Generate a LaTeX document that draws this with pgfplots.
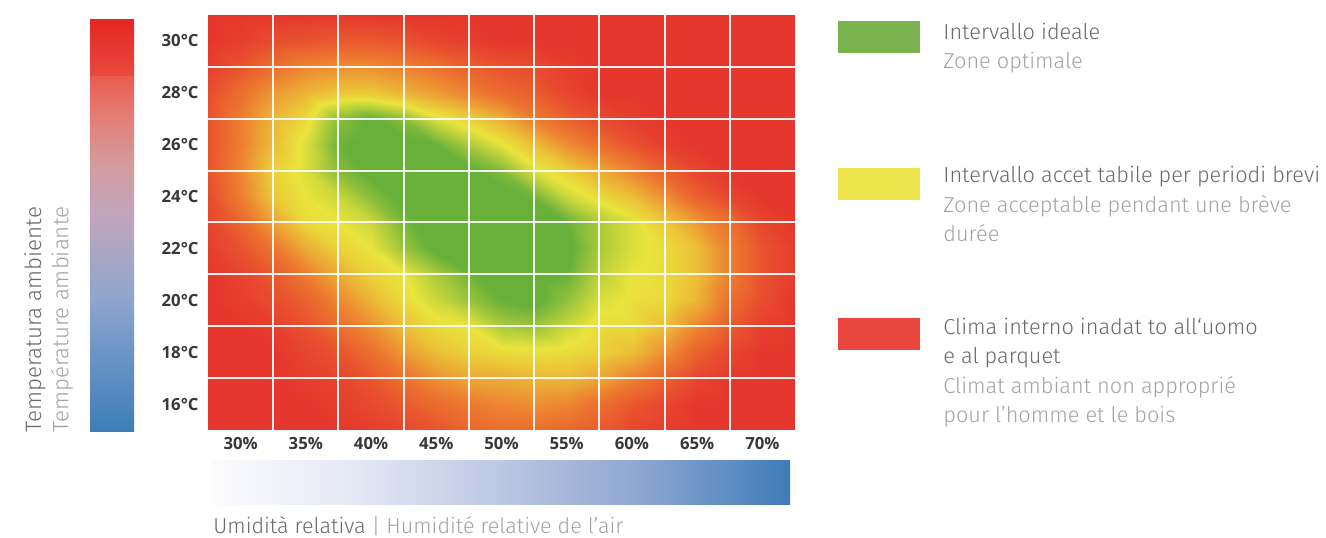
\documentclass[border=0pt]{standalone}
\usepackage{pgfplots}
\pgfplotsset{compat=1.18}
\usepackage{fontspec}
\IfFontExistsTF{Fira Sans Light}{\setmainfont{Fira Sans Light}}{\setmainfont{Fira Sans}}
\newfontfamily\tickfont{Open Sans}
\definecolor{dark}{RGB}{105,105,105}
\definecolor{light}{RGB}{163,163,163}
\definecolor{tickgray}{RGB}{55,55,55}
\definecolor{lgreen}{RGB}{122,179,80}
\definecolor{lyellow}{RGB}{235,228,74}
\definecolor{lred}{RGB}{232,69,60}
\definecolor{cbA}{RGB}{228,40,35}
\definecolor{cbB}{RGB}{232,74,62}
\definecolor{cbC}{RGB}{234,92,80}
\definecolor{cbD}{RGB}{228,125,115}
\definecolor{cbE}{RGB}{212,155,160}
\definecolor{cbF}{RGB}{192,165,188}
\definecolor{cbG}{RGB}{145,165,205}
\definecolor{cbH}{RGB}{110,150,200}
\definecolor{cbI}{RGB}{62,125,183}
\definecolor{hbA}{RGB}{252,252,254}
\definecolor{hbB}{RGB}{228,232,244}
\definecolor{hbC}{RGB}{188,199,227}
\definecolor{hbD}{RGB}{140,165,208}
\definecolor{hbE}{RGB}{62,124,184}
\pgfplotstableread{
x y v
27.5 15 0
30 15 0
32.5 15 0
35 15 0
37.5 15 0
40 15 0.1
42.5 15 0.25
45 15 0.4
47.5 15 0.65
50 15 0.8
52.5 15 0.8
55 15 0.7
57.5 15 0.5
60 15 0.25
62.5 15 0.1
65 15 0
67.5 15 0
70 15 0
72.5 15 0
27.5 16 0
30 16 0
32.5 16 0
35 16 0
37.5 16 0.1
40 16 0.25
42.5 16 0.5
45 16 0.75
47.5 16 0.95
50 16 1.1
52.5 16 1.2
55 16 1.1
57.5 16 0.8
60 16 0.45
62.5 16 0.2
65 16 0
67.5 16 0
70 16 0
72.5 16 0
27.5 17 0
30 17 0
32.5 17 0
35 17 0.1
37.5 17 0.2
40 17 0.45
42.5 17 0.85
45 17 1.2
47.5 17 1.45
50 17 1.5
52.5 17 1.6
55 17 1.65
57.5 17 1.45
60 17 1.05
62.5 17 0.6
65 17 0.2
67.5 17 0
70 17 0
72.5 17 0
27.5 18 0
30 18 0
32.5 18 0
35 18 0.2
37.5 18 0.4
40 18 0.8
42.5 18 1.3
45 18 1.7
47.5 18 1.9
50 18 2.0
52.5 18 2.05
55 18 2.0
57.5 18 1.9
60 18 1.7
62.5 18 1.2
65 18 0.6
67.5 18 0.2
70 18 0
72.5 18 0
27.5 19 0
30 19 0
32.5 19 0.1
35 19 0.4
37.5 19 0.8
40 19 1.2
42.5 19 1.7
45 19 2.0
47.5 19 2.1
50 19 2.5
52.5 19 2.6
55 19 2.3
57.5 19 2.0
60 19 2.0
62.5 19 1.7
65 19 1.1
67.5 19 0.5
70 19 0.1
72.5 19 0
27.5 20 0
30 20 0.1
32.5 20 0.3
35 20 0.6
37.5 20 1.1
40 20 1.6
42.5 20 2.0
45 20 2.3
47.5 20 2.6
50 20 2.9
52.5 20 3
55 20 2.65
57.5 20 2.2
60 20 2.05
62.5 20 2.0
65 20 1.6
67.5 20 0.8
70 20 0.3
72.5 20 0
27.5 21 0
30 21 0.2
32.5 21 0.5
35 21 1.0
37.5 21 1.5
40 21 1.9
42.5 21 2.1
45 21 2.5
47.5 21 2.85
50 21 3
52.5 21 3
55 21 2.9
57.5 21 2.4
60 21 2.1
62.5 21 2.0
65 21 1.7
67.5 21 1.0
70 21 0.4
72.5 21 0.1
27.5 22 0.1
30 22 0.4
32.5 22 0.9
35 22 1.5
37.5 22 1.9
40 22 2.1
42.5 22 2.6
45 22 3
47.5 22 3
50 22 3
52.5 22 3
55 22 3
57.5 22 2.5
60 22 2.2
62.5 22 2.0
65 22 1.7
67.5 22 1.0
70 22 0.4
72.5 22 0.1
27.5 23 0.2
30 23 0.7
32.5 23 1.4
35 23 2.0
37.5 23 2.1
40 23 2.3
42.5 23 2.8
45 23 3
47.5 23 3
50 23 3
52.5 23 3
55 23 2.9
57.5 23 2.5
60 23 2.2
62.5 23 1.8
65 23 1.3
67.5 23 0.8
70 23 0.2
72.5 23 0
27.5 24 0.3
30 24 1.0
32.5 24 1.8
35 24 2.1
37.5 24 2.3
40 24 2.7
42.5 24 3
45 24 3
47.5 24 3
50 24 3
52.5 24 2.85
55 24 2.3
57.5 24 2.0
60 24 1.7
62.5 24 1.2
65 24 0.6
67.5 24 0.2
70 24 0
72.5 24 0
27.5 25 0.4
30 25 1.1
32.5 25 1.9
35 25 2.2
37.5 25 2.7
40 25 3
42.5 25 3
45 25 3
47.5 25 3
50 25 2.75
52.5 25 2.2
55 25 1.9
57.5 25 1.5
60 25 1.1
62.5 25 0.6
65 25 0.2
67.5 25 0
70 25 0
72.5 25 0
27.5 26 0.4
30 26 1.0
32.5 26 1.7
35 26 2.2
37.5 26 2.85
40 26 3
42.5 26 3
45 26 2.9
47.5 26 2.5
50 26 2.15
52.5 26 1.7
55 26 1.2
57.5 26 0.8
60 26 0.4
62.5 26 0.1
65 26 0
67.5 26 0
70 26 0
72.5 26 0
27.5 27 0.4
30 27 1.0
32.5 27 1.6
35 27 2.0
37.5 27 2.7
40 27 2.95
42.5 27 2.7
45 27 2.2
47.5 27 1.9
50 27 1.55
52.5 27 1.0
55 27 0.6
57.5 27 0.3
60 27 0.1
62.5 27 0
65 27 0
67.5 27 0
70 27 0
72.5 27 0
27.5 28 0.3
30 28 0.8
32.5 28 1.3
35 28 1.6
37.5 28 1.8
40 28 1.8
42.5 28 1.6
45 28 1.35
47.5 28 1.05
50 28 0.75
52.5 28 0.55
55 28 0.2
57.5 28 0
60 28 0
62.5 28 0
65 28 0
67.5 28 0
70 28 0
72.5 28 0
27.5 29 0.1
30 29 0.4
32.5 29 0.8
35 29 1.1
37.5 29 1.2
40 29 1.2
42.5 29 1.05
45 29 0.85
47.5 29 0.6
50 29 0.4
52.5 29 0.3
55 29 0.1
57.5 29 0
60 29 0
62.5 29 0
65 29 0
67.5 29 0
70 29 0
72.5 29 0
27.5 30 0
30 30 0.1
32.5 30 0.3
35 30 0.4
37.5 30 0.5
40 30 0.5
42.5 30 0.4
45 30 0.2
47.5 30 0.1
50 30 0
52.5 30 0
55 30 0
57.5 30 0
60 30 0
62.5 30 0
65 30 0
67.5 30 0
70 30 0
72.5 30 0
27.5 31 0
30 31 0
32.5 31 0
35 31 0
37.5 31 0
40 31 0
42.5 31 0
45 31 0
47.5 31 0
50 31 0
52.5 31 0
55 31 0
57.5 31 0
60 31 0
62.5 31 0
65 31 0
67.5 31 0
70 31 0
72.5 31 0
}\comfort
\begin{document}
\begin{tikzpicture}
\path[use as bounding box] (0bp,0bp) rectangle (663bp,269bp);
% vertical colour bar
\shade[top color=cbA, bottom color=cbB] (45bp,230.5bp) rectangle (67bp,259bp);
\shade[top color=cbC, bottom color=cbD] (45bp,211.3bp) rectangle (67bp,230.6bp);
\shade[top color=cbD, bottom color=cbE] (45bp,186.3bp) rectangle (67bp,211.6bp);
\shade[top color=cbE, bottom color=cbF] (45bp,161.3bp) rectangle (67bp,186.6bp);
\shade[top color=cbF, bottom color=cbG] (45bp,119.8bp) rectangle (67bp,161.6bp);
\shade[top color=cbG, bottom color=cbH] (45bp,94.8bp) rectangle (67bp,120.1bp);
\shade[top color=cbH, bottom color=cbI] (45bp,53bp) rectangle (67bp,95.1bp);
% horizontal colour bar
\shade[left color=hbA, right color=hbB] (106bp,16.5bp) rectangle (178.3bp,38.5bp);
\shade[left color=hbB, right color=hbC] (178bp,16.5bp) rectangle (250.3bp,38.5bp);
\shade[left color=hbC, right color=hbD] (250bp,16.5bp) rectangle (322.3bp,38.5bp);
\shade[left color=hbD, right color=hbE] (322bp,16.5bp) rectangle (395bp,38.5bp);
\begin{axis}[
  at={(104bp,54bp)}, anchor=south west,
  scale only axis, width=293.5bp, height=207.5bp,
  view={0}{90},
  xmin=27.5, xmax=72.5, ymin=15, ymax=31,
  xtick={30,35,...,70},
  xticklabels={30\%,35\%,40\%,45\%,50\%,55\%,60\%,65\%,70\%},
  ytick={16,18,...,30},
  yticklabels={16°C,18°C,20°C,22°C,24°C,26°C,28°C,30°C},
  ztick=\empty,
  minor xtick={32.5,37.5,...,67.5},
  minor ytick={17,19,...,29},
  xminorgrids=true, yminorgrids=true,
  minor grid style={draw=white, line width=1bp, opacity=0.92},
  major tick length=0pt, minor tick length=0pt,
  axis line style={draw=none},
  axis on top,
  colormap={heat}{rgb255(0cm)=(229,55,45) rgb255(1cm)=(237,125,48) rgb255(2.1cm)=(234,228,60) rgb255(2.9cm)=(104,176,58) rgb255(3cm)=(104,176,58)},
  point meta min=0, point meta max=3,
  tick label style={font={\tickfont\fontsize{8.4}{10}\selectfont\bfseries}, text=tickgray, inner sep=0pt},
  xticklabel style={anchor=north},
  yticklabel style={anchor=east},
  xticklabel shift=3.5bp,
  yticklabel shift=4.5bp,
]
\addplot3[surf, shader=interp, mesh/cols=19] table[x=x, y=y, z=v] {\comfort};
\end{axis}
% rotated axis titles
\node[rotate=90, anchor=base west, inner sep=0pt, text=dark, font=\fontsize{11.2}{13}\selectfont] at (20.5bp,52.5bp) {Temperatura ambiente};
\node[rotate=90, anchor=base west, inner sep=0pt, text=light, font=\fontsize{11.2}{13}\selectfont] at (34.2bp,52.5bp) {Température ambiante};
% bottom title
\node[anchor=base west, inner sep=0pt, font=\fontsize{10.8}{12}\selectfont] at (106.5bp,2.5bp) {\textcolor{dark}{Umidità relativa}\ \textcolor{light}{|\ Humidité relative de l’air}};
% legend
\fill[lgreen] (419bp,242.5bp) rectangle (460bp,258.5bp);
\fill[lyellow] (419bp,169bp) rectangle (460bp,185bp);
\fill[lred] (419bp,94bp) rectangle (460bp,110bp);
\begin{scope}[every node/.style={anchor=base west, inner sep=0pt, font=\fontsize{10.9}{12}\selectfont}]
\node[text=dark] at (471.5bp,249.35bp) {Intervallo ideale};
\node[text=light] at (471.5bp,234.85bp) {Zone optimale};
\node[text=dark] at (471.5bp,177.5bp) {Intervallo accet tabile per periodi brevi};
\node[text=light] at (471.5bp,162.65bp) {Zone acceptable pendant une brève};
\node[text=light] at (471.5bp,148.15bp) {durée};
\node[text=dark] at (471.5bp,101.85bp) {Clima interno inadat to all‘uomo};
\node[text=dark] at (471.5bp,87bp) {e al parquet};
\node[text=light] at (471.5bp,72.35bp) {Climat ambiant non approprié};
\node[text=light] at (471.5bp,57.85bp) {pour l’homme et le bois};
\end{scope}
\end{tikzpicture}
\end{document}
